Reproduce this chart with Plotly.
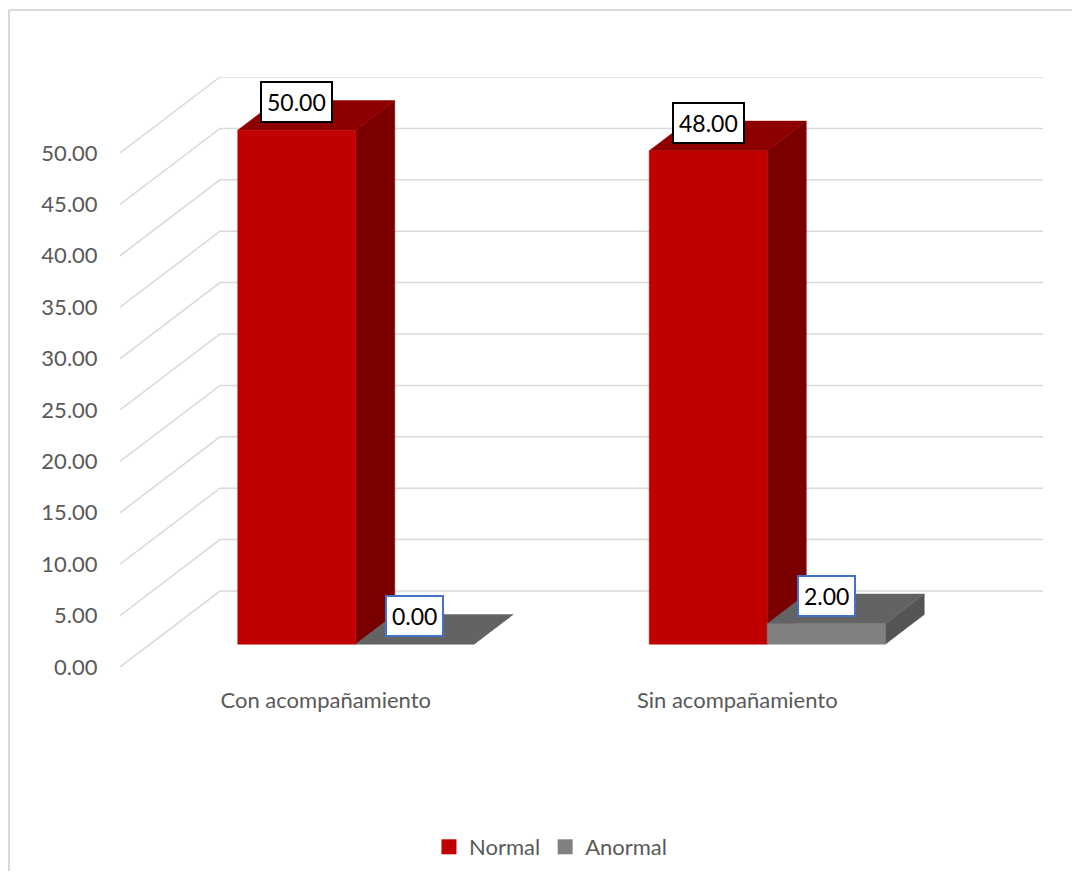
import plotly.graph_objects as go

# ---- data ----
categories = ["Con acompañamiento", "Sin acompañamiento"]
series_names = ["Normal", "Anormal"]
normal_values = [50.00, 48.00]
anormal_values = [0.00, 2.00]
y_ticks = [0, 5, 10, 15, 20, 25, 30, 35, 40, 45, 50]
y_tick_labels = [f"{v:.2f}" for v in y_ticks]

# ---- styles / 3D projection ----
FONT = "Lato, Carlito, 'Open Sans', sans-serif"
TXT = "#595959"
GRID = "#D9D9D9"
DX = 100 / 411.5      # full depth offset, category units
DY = 7.39             # full depth offset, value units
F0, F1 = 0.30, 0.69   # bar depth span as fraction of full depth
BW = 0.2868           # bar width in category units
YMAX = 50
colors = {
    "Normal": dict(front="#C00000", top="#8E0000", side="#7A0000", border="#000000"),
    "Anormal": dict(front="#808080", top="#636363", side="#555555", border="#4472C4"),
}

W, H = 1072, 863
ML, MR, MT, MB = 112, 37, 69, 204
PW, PH = W - ML - MR, H - MT - MB

fig = go.Figure()

# gridlines: back wall + left wall diagonals
gx, gy = [], []
x_left = -0.5
x_right = len(categories) - 0.5
for v in y_ticks:
    gx += [x_left, x_left + DX, x_right + DX, None]
    gy += [v, v + DY, v + DY, None]
fig.add_trace(go.Scatter(x=gx, y=gy, mode="lines", line=dict(color=GRID, width=1.5),
                         hoverinfo="skip", showlegend=False))


def face(xs, ys, color):
    fig.add_trace(go.Scatter(x=xs + [xs[0]], y=ys + [ys[0]], mode="lines", fill="toself",
                             fillcolor=color, line=dict(color=color, width=0.5),
                             hoverinfo="skip", showlegend=False))


ox0, oy0 = F0 * DX, F0 * DY
ox1, oy1 = F1 * DX, F1 * DY
annotations = []
for i, cat in enumerate(categories):
    for s, (name, vals) in enumerate(zip(series_names, [normal_values, anormal_values])):
        v = vals[i]
        c = colors[name]
        xl = i - BW + s * BW
        xr = xl + BW
        # side face
        face([xr + ox0, xr + ox1, xr + ox1, xr + ox0],
             [oy0, oy1, v + oy1, v + oy0], c["side"])
        # top face
        face([xl + ox0, xr + ox0, xr + ox1, xl + ox1],
             [v + oy0, v + oy0, v + oy1, v + oy1], c["top"])
        # front face
        if v > 0:
            face([xl + ox0, xr + ox0, xr + ox0, xl + ox0],
                 [oy0, oy0, v + oy0, v + oy0], c["front"])
        annotations.append(dict(
            x=(xl + xr) / 2 + ox0, y=v + oy0, xref="x", yref="y",
            text=f"{v:.2f}", showarrow=False, yanchor="bottom", yshift=7,
            font=dict(family=FONT, size=23, color="#000000"),
            bgcolor="#FFFFFF", bordercolor=c["border"], borderwidth=2, borderpad=5))

# legend entries
for name in series_names:
    fig.add_trace(go.Scatter(x=[None], y=[None], mode="markers", name=name,
                             marker=dict(symbol="square", size=15, color=colors[name]["front"])))

fig.update_layout(
    width=W, height=H,
    margin=dict(l=ML, r=MR, t=MT, b=MB),
    paper_bgcolor="#FFFFFF", plot_bgcolor="#FFFFFF",
    font=dict(family=FONT, size=22, color=TXT),
    annotations=annotations,
    showlegend=True,
    legend=dict(orientation="h", xref="container", yref="container",
                x=0.5065, y=1 - 839 / H, xanchor="center", yanchor="middle",
                font=dict(family=FONT, size=22, color=TXT), itemwidth=30),
    xaxis=dict(range=[x_left, x_right + DX], showgrid=False, zeroline=False, showline=False,
               tickvals=list(range(len(categories))), ticktext=categories,
               ticks="outside", ticklen=14, tickcolor="rgba(0,0,0,0)",
               tickfont=dict(family=FONT, size=22, color=TXT), fixedrange=True),
    yaxis=dict(range=[0, YMAX + DY], showgrid=False, zeroline=False, showline=False,
               tickvals=y_ticks, ticktext=y_tick_labels,
               ticks="outside", ticklen=17, tickcolor="rgba(0,0,0,0)",
               tickfont=dict(family=FONT, size=22, color=TXT), fixedrange=True),
    shapes=[
        dict(type="line", xref="paper", yref="paper", x0=-(ML - 1) / PW, x1=1.2,
             y0=1 + (MT - 2) / PH, y1=1 + (MT - 2) / PH, line=dict(color=GRID, width=2)),
        dict(type="line", xref="paper", yref="paper", x0=-(ML - 1) / PW, x1=-(ML - 1) / PW,
             y0=1 + (MT - 2) / PH, y1=-0.5, line=dict(color=GRID, width=2)),
    ],
)

fig.write_html("out.html")
